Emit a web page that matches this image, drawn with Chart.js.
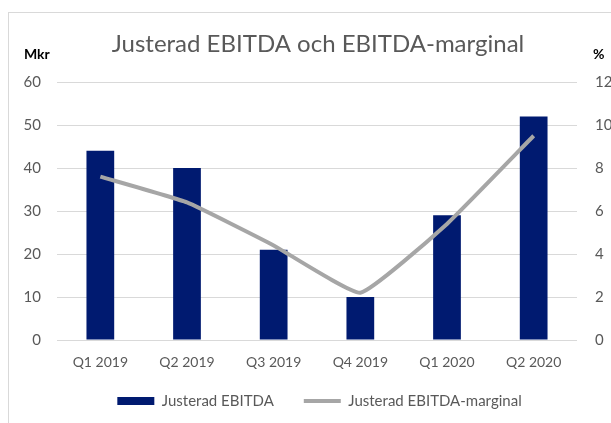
<!DOCTYPE html>
<html>
<head>
<meta charset="utf-8">
<script src="https://cdn.jsdelivr.net/npm/chart.js@4/dist/chart.umd.min.js"></script>
<style>
  html, body { margin: 0; padding: 0; background: #fff; }
  #wrap { position: relative; width: 611px; height: 423px; overflow: hidden; }
  #frame { position: absolute; left: 8px; top: 12px; width: 700px; height: 500px;
           border-top: 1px solid #d9d9d9; border-left: 1px solid #d9d9d9; }
  canvas { position: absolute; left: 0; top: 0; }
</style>
</head>
<body>
<div id="wrap">
  <div id="frame"></div>
  <canvas id="c" width="611" height="423"></canvas>
</div>
<script>
const categories = ["Q1 2019", "Q2 2019", "Q3 2019", "Q4 2019", "Q1 2020", "Q2 2020"];
const ebitda = [44, 40, 21, 10, 29, 52];
const marginal = [7.6, 6.4, 4.4, 2.2, 5.4, 9.5];
const leftTicks = [0, 10, 20, 30, 40, 50, 60];
const rightTicks = [0, 2, 4, 6, 8, 10, 12];
const titleText = "Justerad EBITDA och EBITDA-marginal";
const leftUnit = "Mkr";
const rightUnit = "%";

const FONT = "Lato, 'Open Sans', sans-serif";
const GREY_TEXT = "#595959";

const textPlugin = {
  id: 'texts',
  afterLayout(chart) {
    const lg = chart.legend;
    if (lg) {
      lg.left = 28;
      lg.right = 611;
      lg.top = 363.5;
      lg.bottom = 423;
    }
  },
  afterDraw(chart) {
    const ctx = chart.ctx;
    ctx.save();
    ctx.fillStyle = GREY_TEXT;
    ctx.textBaseline = 'alphabetic';
    ctx.textAlign = 'center';
    ctx.font = "24px " + FONT;
    ctx.fillText(titleText, 318, 52);
    ctx.fillStyle = "#000";
    ctx.font = "bold 14px " + FONT;
    ctx.textAlign = 'left';
    ctx.fillText(leftUnit, 24, 59);
    ctx.fillText(rightUnit, 593, 59);
    ctx.restore();
  }
};

new Chart(document.getElementById('c'), {
  data: {
    labels: categories,
    datasets: [
      {
        type: 'line',
        label: 'Justerad EBITDA-marginal',
        data: marginal,
        yAxisID: 'y1',
        borderColor: '#a6a6a6',
        backgroundColor: '#a6a6a6',
        borderWidth: 4,
        pointRadius: 0,
        pointStyle: 'line',
        tension: 0.12,
        order: 1
      },
      {
        type: 'bar',
        label: 'Justerad EBITDA',
        data: ebitda,
        yAxisID: 'y',
        backgroundColor: '#001a70',
        borderWidth: 0,
        pointStyle: 'rect',
        categoryPercentage: 0.8,
        barPercentage: 0.4,
        order: 2
      }
    ]
  },
  options: {
    responsive: false,
    animation: false,
    layout: { padding: { top: 82, left: 0, right: 0, bottom: 0 } },
    plugins: {
      title: { display: false },
      tooltip: { enabled: false },
      legend: {
        position: 'bottom',
        reverse: true,
        maxHeight: 40,
        labels: {
          usePointStyle: true,
          pointStyleWidth: 37,
          boxWidth: 37,
          boxHeight: 8,
          padding: 30,
          color: GREY_TEXT,
          font: { family: FONT, size: 15 }
        }
      }
    },
    scales: {
      x: {
        grid: { display: false, drawTicks: false },
        border: { display: false },
        ticks: { color: GREY_TEXT, font: { family: FONT, size: 14 }, padding: 14, maxRotation: 0 },
        afterFit(s) { s.height = 43; }
      },
      y: {
        position: 'left',
        min: 0, max: 60,
        afterBuildTicks(s) { s.ticks = leftTicks.map(v => ({ value: v })); },
        grid: { color: '#d9d9d9', lineWidth: 1, drawTicks: false },
        border: { display: false },
        ticks: { color: GREY_TEXT, font: { family: FONT, size: 15 }, padding: 16 },
        afterFit(s) { s.width = 57; }
      },
      y1: {
        position: 'right',
        min: 0, max: 12,
        afterBuildTicks(s) { s.ticks = rightTicks.map(v => ({ value: v })); },
        grid: { display: false, drawTicks: false },
        border: { display: false },
        ticks: { color: GREY_TEXT, font: { family: FONT, size: 15 }, padding: 18 },
        afterFit(s) { s.width = 34; }
      }
    }
  },
  plugins: [textPlugin]
});
</script>
</body>
</html>
